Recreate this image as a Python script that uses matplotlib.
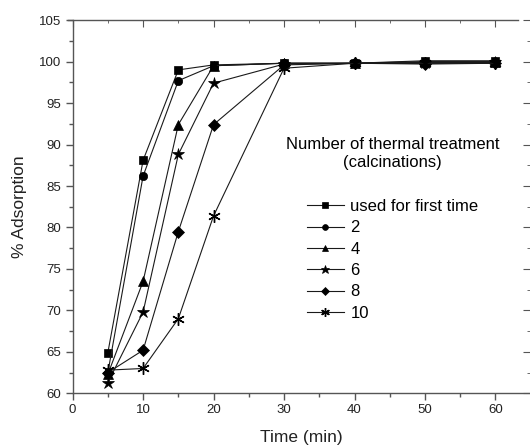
import matplotlib
matplotlib.use('Agg')
import matplotlib.pyplot as plt
from matplotlib.ticker import MultipleLocator

plt.rcParams['font.family'] = ['Liberation Sans', 'DejaVu Sans']

# data
time = [5, 10, 15, 20, 30, 40, 50, 60]
labels = ['used for first time', '2', '4', '6', '8', '10']
first = [64.9, 88.1, 99.0, 99.6, 99.8, 99.8, 100.1, 100.1]
t2 = [62.5, 86.2, 97.7, 99.5, 99.8, 99.8, 100.0, 100.0]
t4 = [62.3, 73.5, 92.4, 99.5, 99.8, 99.8, 99.9, 99.9]
t6 = [61.3, 69.8, 88.8, 97.4, 99.7, 99.8, 99.8, 99.9]
t8 = [62.5, 65.2, 79.5, 92.4, 99.6, 99.8, 99.7, 99.8]
t10 = [62.8, 63.0, 69.0, 81.4, 99.2, 99.8, 99.8, 99.8]
series = [first, t2, t4, t6, t8, t10]

markers = ['s', 'o', '^', '*', 'D', (6, 2, 0)]
msizes = [6, 6, 7, 9, 6, 9]

fig = plt.figure(figsize=(5.3, 4.47), dpi=100)
ax = fig.add_axes([0.137, 0.12, 0.863, 0.835])

for ys, lab, m, ms in zip(series, labels, markers, msizes):
    ax.plot(time, ys, color='#1a1a1a', lw=0.8, marker=m, markersize=ms,
            markerfacecolor='black', markeredgecolor='black',
            markeredgewidth=1.0 if m == (6, 2, 0) else 0.5, label=lab)

ax.set_xlim(0, 64.9)
ax.set_ylim(60, 105)
ax.xaxis.set_major_locator(MultipleLocator(10))
ax.xaxis.set_minor_locator(MultipleLocator(5))
ax.yaxis.set_major_locator(MultipleLocator(5))
ax.yaxis.set_minor_locator(MultipleLocator(2.5))

for s in ['left', 'bottom', 'top']:
    ax.spines[s].set_color('#555555')
    ax.spines[s].set_linewidth(1.0)
ax.spines['right'].set_visible(False)
ax.spines['top'].set_bounds(-0.7, 63.2)

ax.tick_params(which='major', direction='out', length=5, width=1, color='#555555',
               labelsize=9.5, labelcolor='#222222', pad=3)
ax.tick_params(which='minor', direction='out', length=3, width=1, color='#555555')

top = ax.secondary_xaxis('top')
top.set_xticks(range(0, 61, 10))
top.xaxis.set_minor_locator(MultipleLocator(5))
top.tick_params(which='major', direction='in', length=5, color='#555555', labeltop=False)
top.tick_params(which='minor', direction='in', length=2.5, color='#555555')
top.spines['top'].set_visible(False)

right = ax.secondary_yaxis('right')
right.yaxis.set_major_locator(MultipleLocator(5))
right.yaxis.set_minor_locator(MultipleLocator(2.5))
right.tick_params(which='major', direction='in', length=5, color='#555555', labelright=False)
right.tick_params(which='minor', direction='in', length=2.5, color='#555555')
right.spines['right'].set_visible(False)

ax.set_xlabel('Time (min)', fontsize=12.5, color='#222222', labelpad=10)
ax.set_ylabel('% Adsorption', fontsize=12.5, color='#222222', labelpad=9)

leg = ax.legend(loc='upper center', bbox_to_anchor=(0.70, 0.708), frameon=False,
                title='Number of thermal treatment\n(calcinations)',
                fontsize=12, title_fontsize=12, markerscale=0.7,
                handlelength=2.2, handletextpad=0.4, labelspacing=0.38,
                borderpad=0)
leg.get_title().set_multialignment('center')
leg._legend_box.sep = 21

fig.savefig('out.png', dpi=100)
